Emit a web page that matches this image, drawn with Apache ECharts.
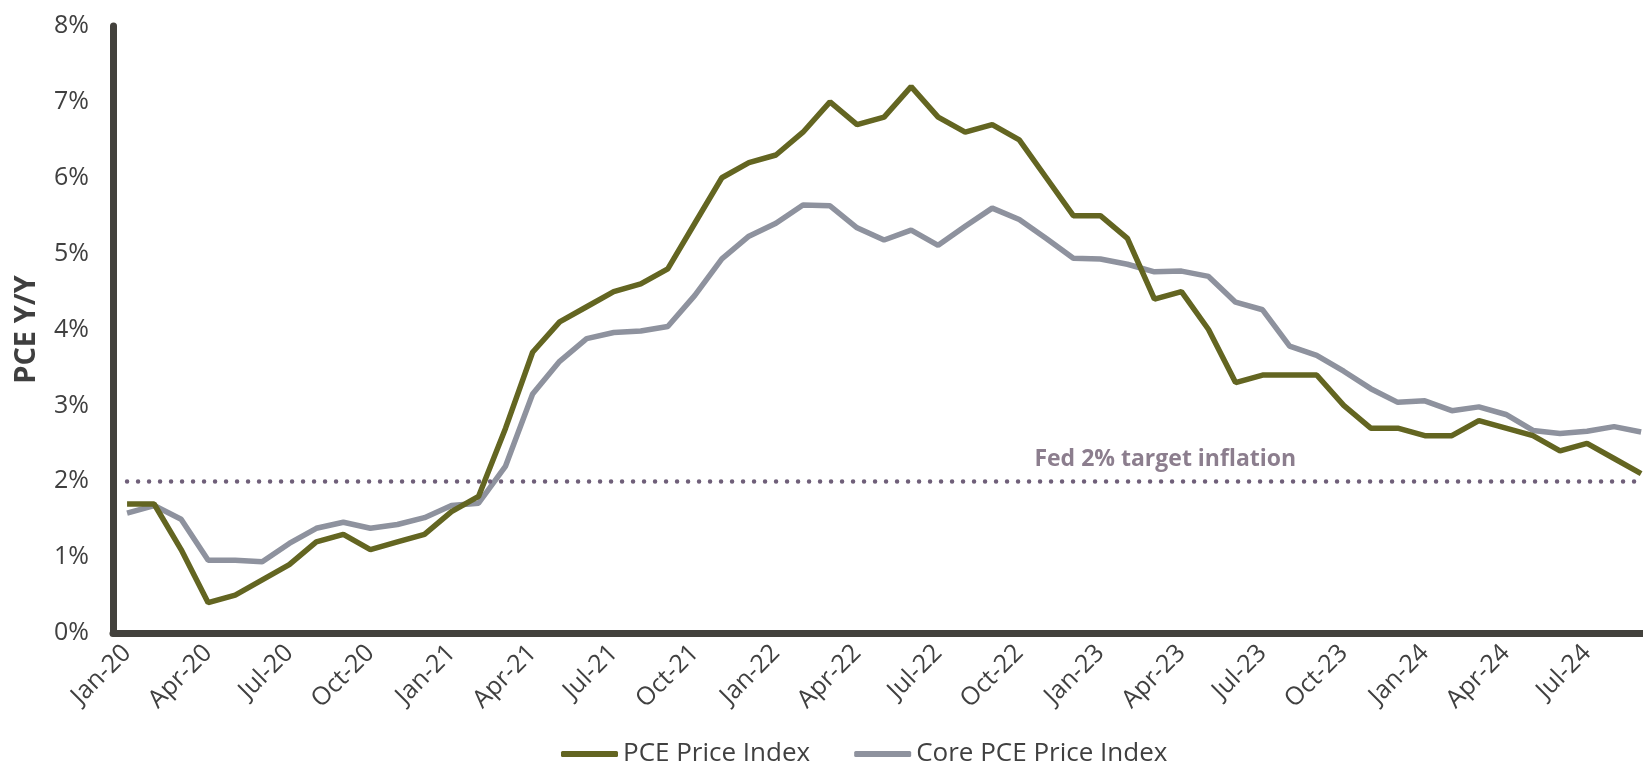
<!DOCTYPE html>
<html lang="en">
<head>
    <meta charset="UTF-8">
    <title>PCE Y/Y</title>
    <script src="https://cdn.jsdelivr.net/npm/echarts@6/dist/echarts.min.js"></script>
    <style>
        html, body { margin: 0; padding: 0; background: #fff; }
        #chart { width: 1643px; height: 765px; }
    </style>
</head>
<body>
    <div id="chart"></div>
    <script>
        // x-axis tick labels, one every 3 months starting Jan-20
        var tickLabels = ['Jan-20', 'Apr-20', 'Jul-20', 'Oct-20', 'Jan-21', 'Apr-21', 'Jul-21', 'Oct-21',
            'Jan-22', 'Apr-22', 'Jul-22', 'Oct-22', 'Jan-23', 'Apr-23', 'Jul-23', 'Oct-23',
            'Jan-24', 'Apr-24', 'Jul-24'];

        // monthly Y/Y %, Jan-20 .. Sep-24
        var pce = [1.7, 1.7, 1.1, 0.4, 0.5, 0.7, 0.9, 1.2, 1.3, 1.1, 1.2, 1.3,
            1.6, 1.8, 2.7, 3.7, 4.1, 4.3, 4.5, 4.6, 4.8, 5.4, 6.0, 6.2,
            6.3, 6.6, 7.0, 6.7, 6.8, 7.2, 6.8, 6.6, 6.7, 6.5, 6.0, 5.5,
            5.5, 5.2, 4.4, 4.5, 4.0, 3.3, 3.4, 3.4, 3.4, 3.0, 2.7, 2.7,
            2.6, 2.6, 2.8, 2.7, 2.6, 2.4, 2.5, 2.3, 2.1];
        var core = [1.58, 1.68, 1.50, 0.96, 0.96, 0.94, 1.18, 1.38, 1.46, 1.38, 1.43, 1.52,
            1.68, 1.71, 2.20, 3.15, 3.58, 3.88, 3.96, 3.98, 4.04, 4.45, 4.93, 5.23,
            5.40, 5.64, 5.63, 5.34, 5.18, 5.31, 5.11, 5.36, 5.60, 5.45, 5.20, 4.94,
            4.93, 4.86, 4.76, 4.77, 4.70, 4.36, 4.26, 3.78, 3.66, 3.45, 3.22, 3.04,
            3.06, 2.93, 2.98, 2.88, 2.67, 2.63, 2.66, 2.72, 2.65];

        var fedTarget = 2;
        var fedLabel = 'Fed 2% target inflation';

        function toPairs(arr) {
            return arr.map(function (v, i) { return [i, v]; });
        }

        var tickIdx = tickLabels.map(function (s, i) { return i * 3; });
        var lastIdx = pce.length - 1;
        var font = 'Open Sans';

        var myChart = echarts.init(document.getElementById('chart'));

        var option = {
            animation: false,
            textStyle: { fontFamily: font },
            grid: { left: 113, right: 0, top: 26, bottom: 132 },
            legend: {
                left: 556,
                top: 736,
                itemWidth: 57,
                itemHeight: 6,
                itemGap: 44,
                icon: 'roundRect',
                textStyle: { fontSize: 26, color: '#404040', fontFamily: font },
                data: ['PCE Price Index', 'Core PCE Price Index']
            },
            xAxis: {
                type: 'value',
                min: -0.52,
                max: 56.07,
                axisLine: { show: true, onZero: false, lineStyle: { color: '#43413c', width: 7 } },
                axisTick: { show: false },
                splitLine: { show: false },
                axisLabel: {
                    customValues: tickIdx,
                    rotate: 45,
                    margin: 16,
                    fontSize: 25,
                    color: '#404040',
                    formatter: function (v) { return tickLabels[Math.round(v / 3)]; }
                }
            },
            yAxis: {
                type: 'value',
                min: 0,
                max: 8,
                interval: 1,
                name: 'PCE Y/Y',
                nameLocation: 'middle',
                nameGap: 72,
                nameTextStyle: { fontSize: 29, fontWeight: 'bold', color: '#3f3f3f', fontFamily: font },
                axisLine: { show: true, onZero: false, lineStyle: { color: '#43413c', width: 7 } },
                axisTick: { show: false },
                splitLine: { show: false },
                axisLabel: {
                    margin: 24,
                    fontSize: 25,
                    color: '#404040',
                    formatter: '{value}%'
                }
            },
            series: [
                {
                    name: 'PCE Price Index',
                    type: 'line',
                    data: toPairs(pce),
                    symbol: 'none',
                    z: 3,
                    lineStyle: { color: '#636521', width: 5.5 },
                    itemStyle: { color: '#636521' },
                    markLine: {
                        silent: true,
                        symbol: 'none',
                        label: { show: false },
                        lineStyle: { color: '#6f5f79', width: 4.5, type: [0, 11], cap: 'round' },
                        data: [[{ coord: [0, fedTarget] }, { coord: [lastIdx, fedTarget] }]]
                    },
                    markPoint: {
                        silent: true,
                        symbol: 'circle',
                        symbolSize: 1,
                        itemStyle: { color: 'rgba(0,0,0,0)' },
                        label: {
                            show: true,
                            position: 'top',
                            distance: 10,
                            formatter: fedLabel,
                            fontSize: 23,
                            fontWeight: 'bold',
                            color: '#8c7e8e',
                            fontFamily: font
                        },
                        data: [{ coord: [38.4, fedTarget] }]
                    }
                },
                {
                    name: 'Core PCE Price Index',
                    type: 'line',
                    data: toPairs(core),
                    symbol: 'none',
                    z: 2,
                    lineStyle: { color: '#8e929e', width: 5.5 },
                    itemStyle: { color: '#8e929e' }
                }
            ]
        };

        myChart.setOption(option);
    </script>
</body>
</html>
